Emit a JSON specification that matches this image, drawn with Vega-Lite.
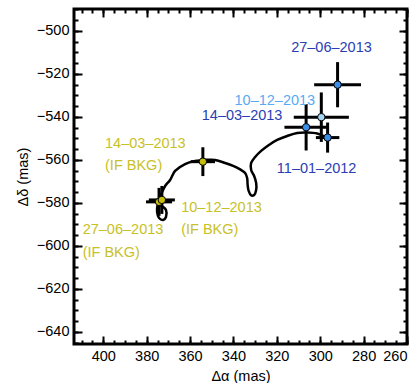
{
  "$schema": "https://vega.github.io/schema/vega-lite/v6.json",
  "width": 333,
  "height": 335,
  "autosize": {"type": "none"},
  "padding": {"left": 74, "top": 9, "right": 10, "bottom": 39},
  "config": {
    "view": {"stroke": "black", "strokeWidth": 3},
    "font": "Liberation Sans",
    "axis": {
      "domain": false,
      "grid": false,
      "tickColor": "black",
      "tickWidth": 2,
      "labelFont": "Liberation Sans",
      "labelFontSize": 14.5,
      "labelColor": "black",
      "titleFont": "Liberation Sans",
      "titleFontSize": 14.5,
      "titleFontWeight": "normal",
      "titleColor": "black"
    }
  },
  "datasets": {
    "track": [
      {"i": 0, "x": 373.8, "y": -580.9},
      {"i": 1, "x": 372.4, "y": -581.9},
      {"i": 2, "x": 371.1, "y": -583.3},
      {"i": 3, "x": 371.1, "y": -586.5},
      {"i": 4, "x": 372.4, "y": -587.9},
      {"i": 5, "x": 374.3, "y": -587.0},
      {"i": 6, "x": 375.2, "y": -584.2},
      {"i": 7, "x": 374.8, "y": -580.0},
      {"i": 8, "x": 373.0, "y": -575.3},
      {"i": 9, "x": 371.5, "y": -572.1},
      {"i": 10, "x": 369.2, "y": -569.3},
      {"i": 11, "x": 366.9, "y": -565.1},
      {"i": 12, "x": 362.3, "y": -561.9},
      {"i": 13, "x": 357.7, "y": -560.5},
      {"i": 14, "x": 353.1, "y": -560.0},
      {"i": 15, "x": 348.5, "y": -560.0},
      {"i": 16, "x": 343.84, "y": -561.4},
      {"i": 17, "x": 340.15, "y": -562.79},
      {"i": 18, "x": 336.92, "y": -564.42},
      {"i": 19, "x": 334.61, "y": -566.05},
      {"i": 20, "x": 333.69, "y": -568.37},
      {"i": 21, "x": 333.46, "y": -571.63},
      {"i": 22, "x": 332.99, "y": -574.42},
      {"i": 23, "x": 331.84, "y": -576.51},
      {"i": 24, "x": 330.46, "y": -576.28},
      {"i": 25, "x": 329.53, "y": -573.95},
      {"i": 26, "x": 329.53, "y": -570.7},
      {"i": 27, "x": 330.46, "y": -567.44},
      {"i": 28, "x": 331.84, "y": -564.65},
      {"i": 29, "x": 331.84, "y": -561.4},
      {"i": 30, "x": 330.0, "y": -558.6},
      {"i": 31, "x": 327.23, "y": -555.81},
      {"i": 32, "x": 323.99, "y": -553.26},
      {"i": 33, "x": 319.84, "y": -550.7},
      {"i": 34, "x": 315.23, "y": -548.84},
      {"i": 35, "x": 310.61, "y": -547.44},
      {"i": 36, "x": 306.0, "y": -547.21},
      {"i": 37, "x": 301.38, "y": -547.67},
      {"i": 38, "x": 297.69, "y": -549.3},
      {"i": 39, "x": 295.85, "y": -550.7}
    ],
    "points": [
      {"date": "10-12-2013 (IF BKG)", "grp": "bkg", "x": 374.3, "y": -579.5, "xlo": 368.3, "xhi": 380.3, "ylo": -586.0, "yhi": -573.0},
      {"date": "27-06-2013 (IF BKG)", "grp": "bkg", "x": 373.0, "y": -578.6, "xlo": 367.0, "xhi": 379.0, "ylo": -585.1, "yhi": -572.1},
      {"date": "14-03-2013 (IF BKG)", "grp": "bkg", "x": 354.1, "y": -560.8, "xlo": 348.5, "xhi": 359.7, "ylo": -567.5, "yhi": -554.1},
      {"date": "27-06-2013", "grp": "blue", "x": 292.0, "y": -525.0, "xlo": 281.2, "xhi": 302.8, "ylo": -535.5, "yhi": -514.5},
      {"date": "10-12-2013", "grp": "light", "x": 299.5, "y": -540.1, "xlo": 286.8, "xhi": 312.2, "ylo": -551.6, "yhi": -528.6},
      {"date": "14-03-2013", "grp": "blue", "x": 306.5, "y": -544.8, "xlo": 296.5, "xhi": 316.5, "ylo": -555.6, "yhi": -534.0},
      {"date": "11-01-2012", "grp": "blue", "x": 296.6, "y": -549.6, "xlo": 291.2, "xhi": 302.0, "ylo": -556.6, "yhi": -542.6}
    ],
    "labels": [
      {"text": "14–03–2013", "grp": "bkg", "x": 399.2, "y": -552.6},
      {"text": "(IF BKG)", "grp": "bkg", "x": 399.2, "y": -562.8},
      {"text": "27–06–2013", "grp": "bkg", "x": 409.5, "y": -592.6},
      {"text": "(IF BKG)", "grp": "bkg", "x": 409.5, "y": -603.1},
      {"text": "10–12–2013", "grp": "bkg", "x": 364.1, "y": -582.3},
      {"text": "(IF BKG)", "grp": "bkg", "x": 364.1, "y": -592.6},
      {"text": "27–06–2013", "grp": "dark", "x": 313.4, "y": -507.9},
      {"text": "10–12–2013", "grp": "light", "x": 339.5, "y": -532.6},
      {"text": "14–03–2013", "grp": "dark", "x": 354.6, "y": -539.4},
      {"text": "11–01–2012", "grp": "dark", "x": 320.0, "y": -564.3}
    ]
  },
  "layer": [
    {
      "data": {"name": "track"},
      "mark": {"type": "line", "color": "black", "strokeWidth": 2.5, "interpolate": "catmull-rom", "clip": true},
      "encoding": {
        "x": {"field": "x", "type": "quantitative",
          "scale": {"domain": [260, 413.5], "reverse": true, "zero": false, "nice": false},
          "axis": {"orient": "bottom", "values": [260,265,270,275,280,285,290,295,300,305,310,315,320,325,330,335,340,345,350,355,360,365,370,375,380,385,390,395,400,405,410], "tickSize": -4, "labels": false, "title": null}},
        "y": {"field": "y", "type": "quantitative",
          "scale": {"domain": [-645.6, -489.8], "zero": false, "nice": false},
          "axis": {"orient": "left", "values": [-645,-640,-635,-630,-625,-620,-615,-610,-605,-600,-595,-590,-585,-580,-575,-570,-565,-560,-555,-550,-545,-540,-535,-530,-525,-520,-515,-510,-505,-500,-495,-490], "tickSize": -4, "labels": false, "title": null}},
        "order": {"field": "i", "type": "quantitative"}
      }
    },
    {
      "data": {"name": "points"},
      "mark": {"type": "rule", "color": "black", "strokeWidth": 3},
      "encoding": {
        "x": {"field": "xlo", "type": "quantitative",
          "axis": {"orient": "bottom", "values": [260,280,300,320,340,360,380,400], "tickSize": -8, "labelPadding": 13, "title": "Δα (mas)", "titlePadding": 7}},
        "x2": {"field": "xhi"},
        "y": {"field": "y", "type": "quantitative",
          "axis": {"orient": "left", "values": [-640,-620,-600,-580,-560,-540,-520,-500], "tickSize": -8, "labelPadding": 13, "title": "Δδ (mas)", "titlePadding": 6}}
      }
    },
    {
      "data": {"name": "points"},
      "mark": {"type": "rule", "color": "black", "strokeWidth": 3},
      "encoding": {
        "x": {"field": "x", "type": "quantitative",
          "axis": {"orient": "top", "values": [260,280,300,320,340,360,380,400], "tickSize": -8, "labels": false, "title": null}},
        "y": {"field": "ylo", "type": "quantitative",
          "axis": {"orient": "right", "values": [-640,-620,-600,-580,-560,-540,-520,-500], "tickSize": -8, "labels": false, "title": null}},
        "y2": {"field": "yhi"}
      }
    },
    {
      "data": {"name": "points"},
      "mark": {"type": "point", "shape": "circle", "filled": true, "size": 55, "stroke": "black", "strokeWidth": 1, "opacity": 1},
      "encoding": {
        "x": {"field": "x", "type": "quantitative",
          "axis": {"orient": "top", "values": [260,265,270,275,280,285,290,295,300,305,310,315,320,325,330,335,340,345,350,355,360,365,370,375,380,385,390,395,400,405,410], "tickSize": -4, "labels": false, "title": null}},
        "y": {"field": "y", "type": "quantitative",
          "axis": {"orient": "right", "values": [-645,-640,-635,-630,-625,-620,-615,-610,-605,-600,-595,-590,-585,-580,-575,-570,-565,-560,-555,-550,-545,-540,-535,-530,-525,-520,-515,-510,-505,-500,-495,-490], "tickSize": -4, "labels": false, "title": null}},
        "fill": {"field": "grp", "type": "nominal",
          "scale": {"domain": ["bkg", "blue", "light"], "range": ["#c6be0c", "#3a8ee8", "#a8d4f4"]},
          "legend": null}
      }
    },
    {
      "data": {"name": "labels"},
      "mark": {"type": "text", "align": "left", "baseline": "middle", "font": "Liberation Sans", "fontSize": 14.5},
      "encoding": {
        "x": {"field": "x", "type": "quantitative", "axis": null},
        "y": {"field": "y", "type": "quantitative", "axis": null},
        "text": {"field": "text"},
        "color": {"field": "grp", "type": "nominal",
          "scale": {"domain": ["bkg", "dark", "light"], "range": ["#c8c126", "#2b3db5", "#5aaaf2"]},
          "legend": null}
      }
    }
  ],
  "resolve": {"axis": {"x": "independent", "y": "independent"}}
}
